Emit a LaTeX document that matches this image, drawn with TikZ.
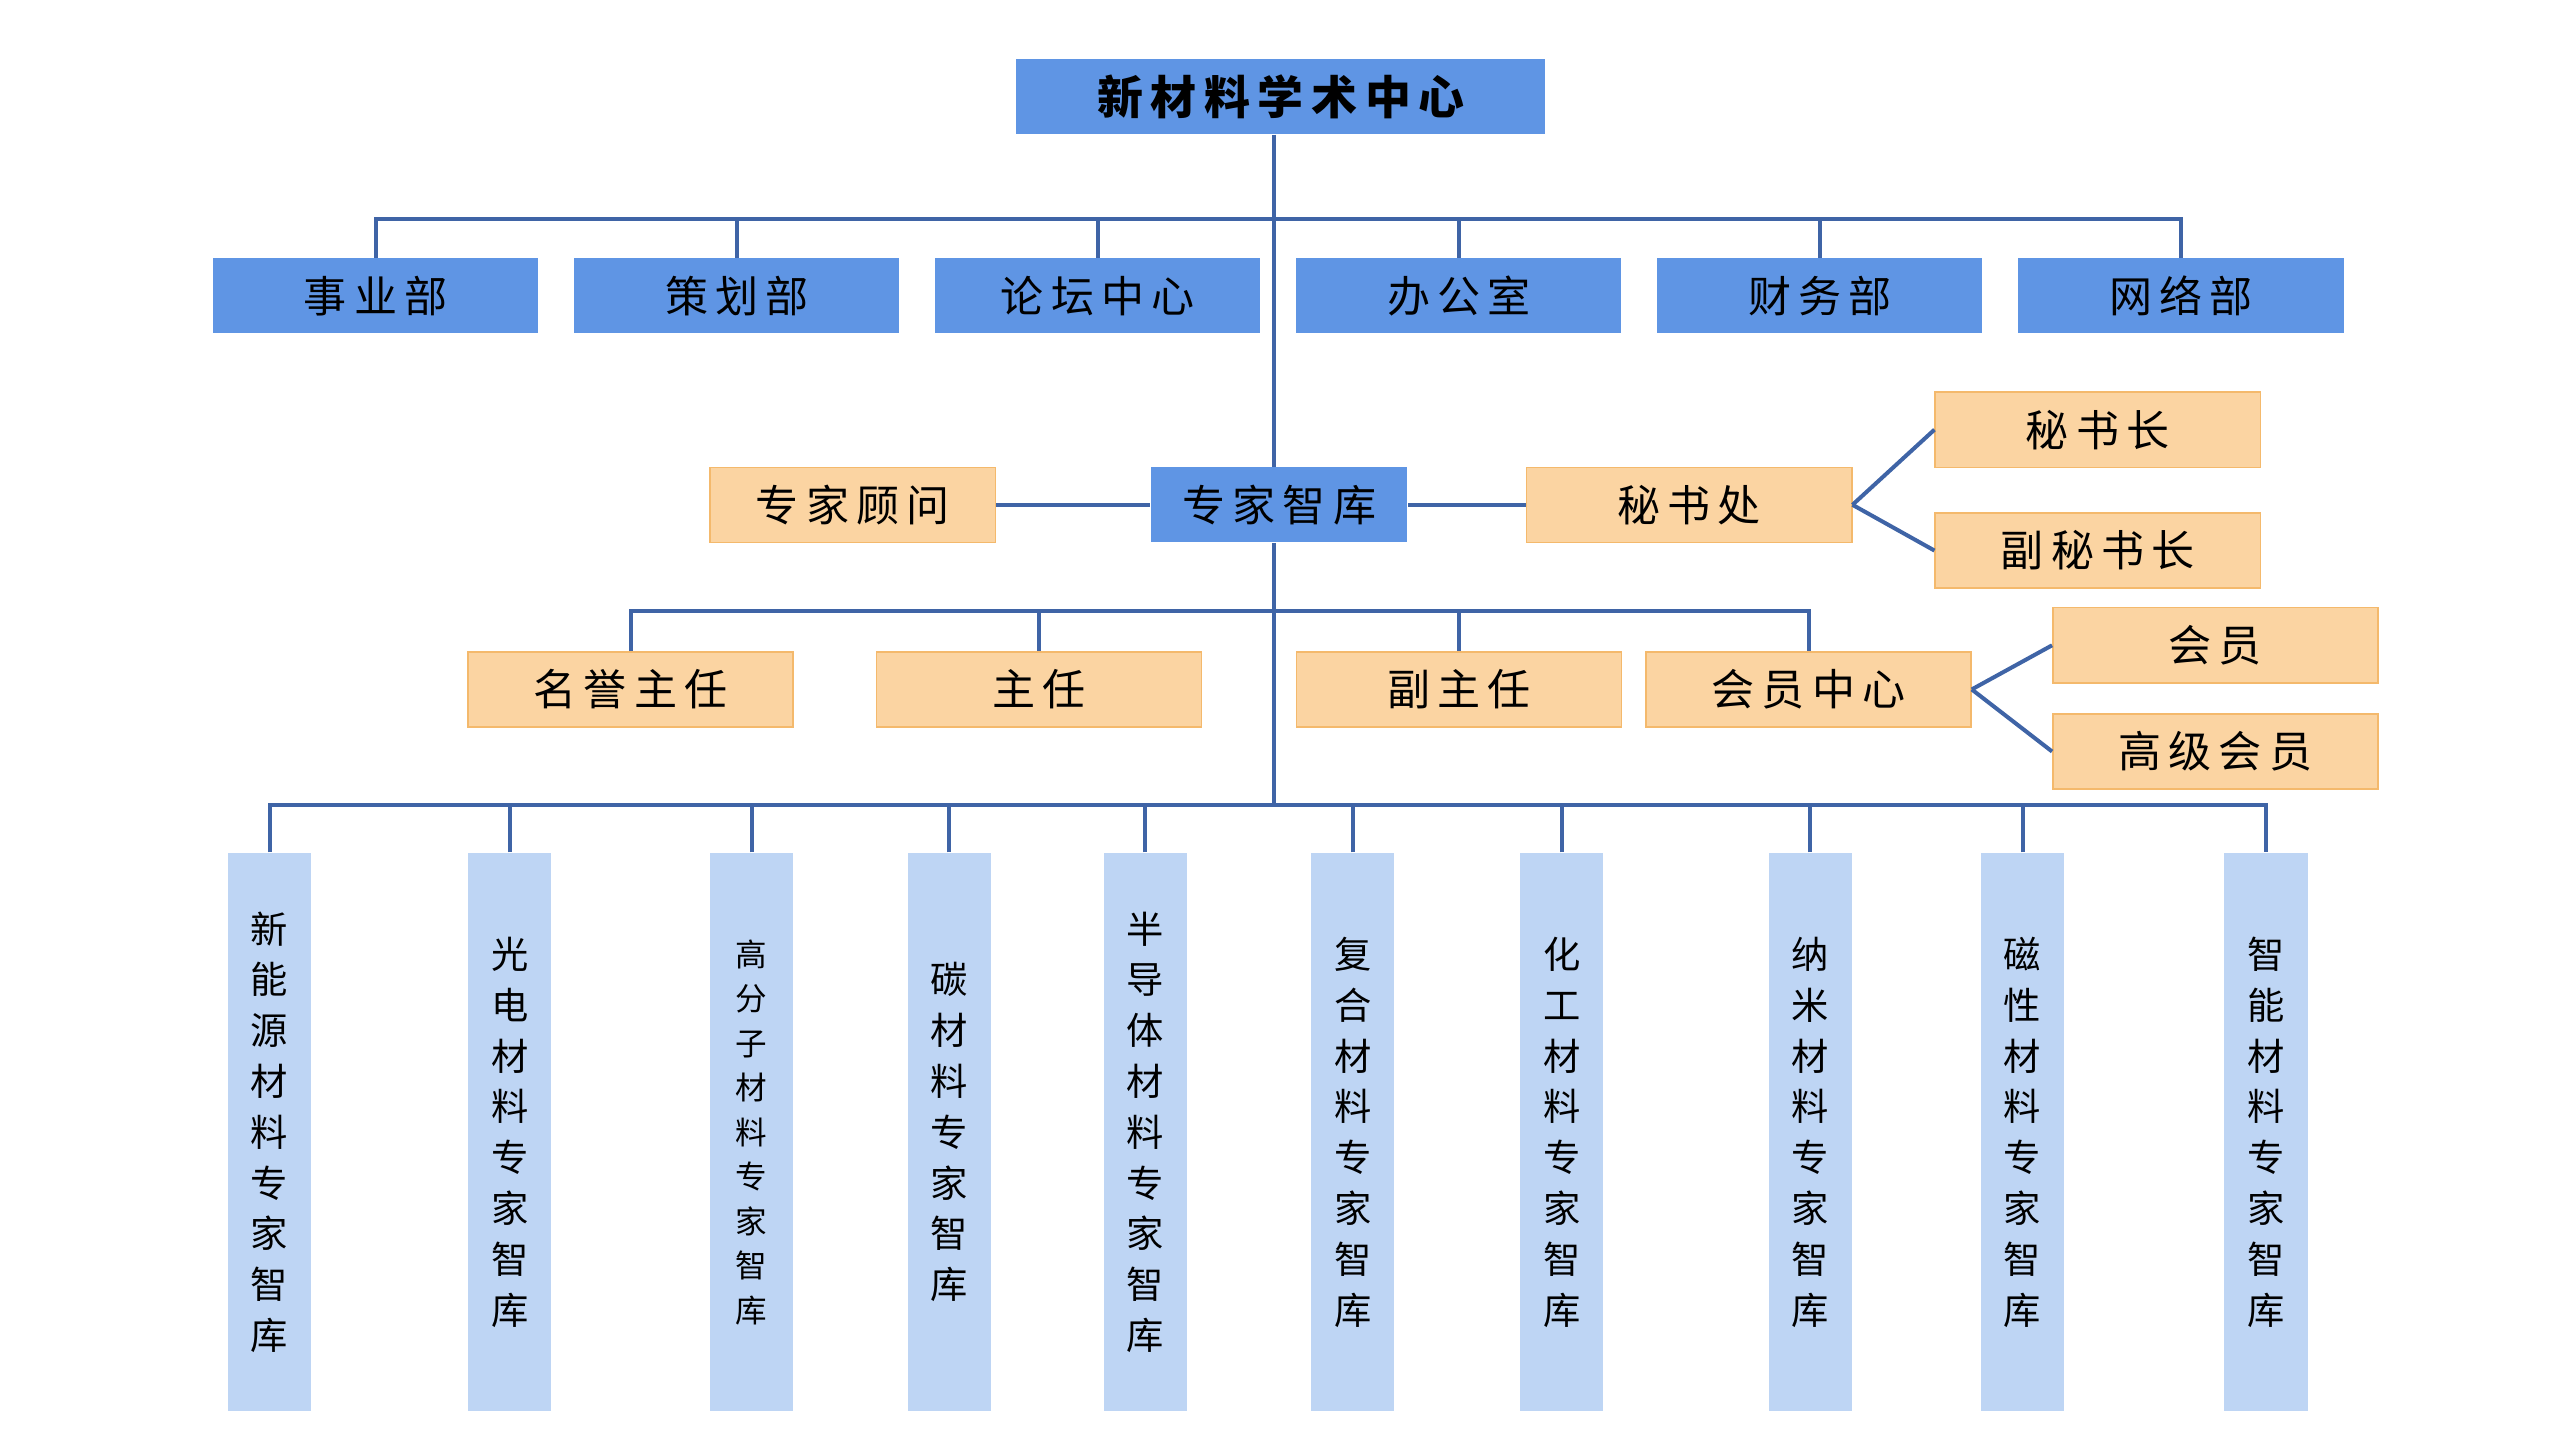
\documentclass[tikz,border=0pt]{standalone}
\usepackage{fontspec}
\setmainfont{Noto Sans CJK SC}
\usetikzlibrary{positioning, calc}
\definecolor{blueBox}{HTML}{5F95E4}
\definecolor{lightBox}{HTML}{BED5F4}
\definecolor{orangeBox}{HTML}{FBD4A2}
\definecolor{orangeLine}{HTML}{F4B96C}
\definecolor{linkBlue}{HTML}{3F64A6}

\tikzset{
  dept/.style={rectangle, fill=blueBox, minimum width=3.98cm, minimum height=0.92cm, inner sep=0pt, font=\fontsize{15}{18}\selectfont},
  post/.style={rectangle, fill=orangeBox, draw=orangeLine, line width=0.5pt, minimum width=3.98cm, minimum height=0.92cm, inner sep=0pt, font=\fontsize{15}{18}\selectfont},
  bank/.style={rectangle, fill=lightBox, minimum width=1.02cm, minimum height=6.84cm, inner sep=0pt, align=center, font=\fontsize{13}{17.7}\selectfont},
  link/.style={draw=linkBlue, line width=1.4pt},
}

\begin{document}
\begin{tikzpicture}[x=0.02cm, y=-0.02cm]
      \useasboundingbox (0, 0) rectangle (1567, 881.4);

      % top
      \node[dept, minimum width=6.48cm, font=\fontsize{16}{18}\selectfont\bfseries] (top) at (784, 59) {新\,材\,料\,学\,术\,中\,心};

      % departments
      \node[dept] (d1) at (230, 181) {事\,业\,部};
      \node[dept] (d2) at (451, 181) {策\,划\,部};
      \node[dept] (d3) at (672, 181) {论\,坛\,中\,心};
      \node[dept] (d4) at (893, 181) {办\,公\,室};
      \node[dept] (d5) at (1114, 181) {财\,务\,部};
      \node[dept] (d6) at (1335, 181) {网\,络\,部};

      % think tank row
      \node[dept, minimum width=3.14cm] (zk) at (783, 309) {专\,家\,智\,库};
      \node[post, minimum width=3.5cm] (gw) at (522, 309) {专\,家\,顾\,问};
      \node[post] (msc) at (1034, 309) {秘\,书\,处};
      \node[post] (msz) at (1284, 263) {秘\,书\,长};
      \node[post] (fms) at (1284, 337) {副\,秘\,书\,长};

      % directors row
      \node[post] (my) at (386, 422) {名\,誉\,主\,任};
      \node[post] (zr) at (636, 422) {主\,任};
      \node[post] (fz) at (893, 422) {副\,主\,任};
      \node[post] (hz) at (1107, 422) {会\,员\,中\,心};
      \node[post] (hy) at (1356, 395) {会\,员};
      \node[post] (gj) at (1356, 460) {高\,级\,会\,员};

      % expert banks
      \node[bank] (k1) at (165, 693) {新\\能\\源\\材\\料\\专\\家\\智\\库};
      \node[bank] (k2) at (312, 693) {光\\电\\材\\料\\专\\家\\智\\库};
      \node[bank, font=\fontsize{11}{15.5}\selectfont] (k3) at (460, 693) {高\\分\\子\\材\\料\\专\\家\\智\\库};
      \node[bank] (k4) at (581, 693) {碳\\材\\料\\专\\家\\智\\库};
      \node[bank] (k5) at (701, 693) {半\\导\\体\\材\\料\\专\\家\\智\\库};
      \node[bank] (k6) at (828, 693) {复\\合\\材\\料\\专\\家\\智\\库};
      \node[bank] (k7) at (956, 693) {化\\工\\材\\料\\专\\家\\智\\库};
      \node[bank] (k8) at (1108, 693) {纳\\米\\材\\料\\专\\家\\智\\库};
      \node[bank] (k9) at (1238, 693) {磁\\性\\材\\料\\专\\家\\智\\库};
      \node[bank] (k10) at (1387, 693) {智\\能\\材\\料\\专\\家\\智\\库};

      % connectors
      \coordinate (bus1) at (780, 134);
      \coordinate (bus2) at (780, 374);
      \coordinate (bus3) at (780, 493);
      \draw[link] (top.south -| bus1) -- (zk.north -| bus1);
      \draw[link] (zk.south -| bus1) -- (bus3);
      \draw[link] (d1.north) -- (d1.north |- bus1) -- (d6.north |- bus1) -- (d6.north);
      \foreach \n in {d2, d3, d4, d5}
        \draw[link] (\n.north) -- (\n.north |- bus1);

      \draw[link] (gw) -- (zk);
      \draw[link] (zk) -- (msc);
      \draw[link] (msc.east) -- (msz.west);
      \draw[link] (msc.east) -- (fms.west);

      \draw[link] (my.north) -- (my.north |- bus2) -- (hz.north |- bus2) -- (hz.north);
      \foreach \n in {zr, fz}
        \draw[link] (\n.north) -- (\n.north |- bus2);
      \draw[link] (hz.east) -- (hy.west);
      \draw[link] (hz.east) -- (gj.west);

      \draw[link] (k1.north) -- (k1.north |- bus3) -- (k10.north |- bus3) -- (k10.north);
      \foreach \n in {k2, k3, k4, k5, k6, k7, k8, k9}
        \draw[link] (\n.north) -- (\n.north |- bus3);
\end{tikzpicture}
\end{document}
